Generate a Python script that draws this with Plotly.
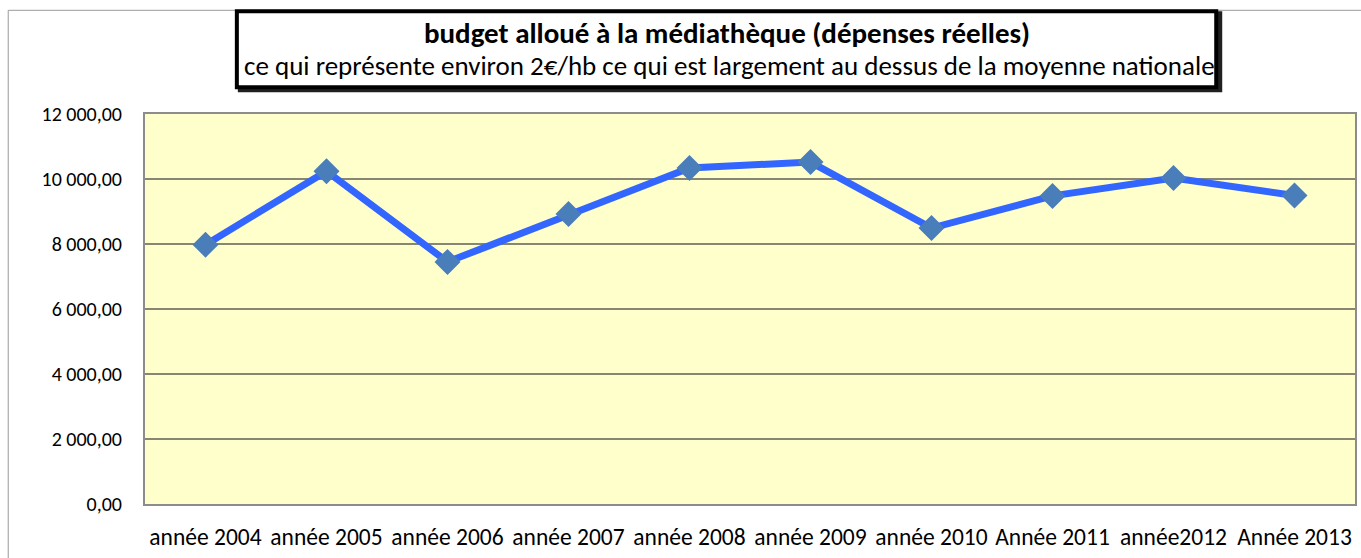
import plotly.graph_objects as go

categories = ["année 2004", "année 2005", "année 2006", "année 2007", "année 2008",
              "année 2009", "année 2010", "Année 2011", "année2012", "Année 2013"]
budget = [7980, 10240, 7450, 8920, 10340, 10520, 8490, 9480, 10030, 9490]
ytick_vals = [0, 2000, 4000, 6000, 8000, 10000, 12000]
ytick_text = ["0,00", "2 000,00", "4 000,00", "6 000,00", "8 000,00", "10 000,00", "12 000,00"]
title_main = "budget alloué à la médiathèque (dépenses réelles)"
title_sub = "ce qui représente environ 2€/hb ce qui est largement au dessus de la moyenne nationale"

W, H = 1361, 558
L, R, T, B = 145, 1357, 113.7, 503.7
pw, ph = R - L, B - T

def px(x):
    return (x - L) / pw

def py(y):
    return (B - y) / ph

FONT = "Carlito, Lato, 'Open Sans', sans-serif"

fig = go.Figure()
fig.add_trace(go.Scatter(
    x=categories, y=budget, mode="lines+markers",
    line=dict(color="#3366FF", width=7),
    marker=dict(symbol="diamond", size=20, color="#4A7EBB"),
    cliponaxis=False, showlegend=False, hoverinfo="skip",
))

shapes = [
    dict(type="rect", xref="paper", yref="paper",
         x0=px(8), x1=px(1400), y0=py(600), y1=py(10),
         line=dict(color="#9a9a9a", width=1), fillcolor="rgba(0,0,0,0)", layer="below"),
    dict(type="rect", xref="paper", yref="paper",
         x0=px(240), x1=px(1222), y0=py(90), y1=py(13),
         line=dict(color="#202020", width=4), fillcolor="#202020", layer="above"),
    dict(type="rect", xref="paper", yref="paper",
         x0=px(237), x1=px(1218), y0=py(87), y1=py(11),
         line=dict(color="black", width=4), fillcolor="white", layer="above"),
]

annotations = [
    dict(text="<b>" + title_main + "</b>", xref="paper", yref="paper",
         x=px(728), y=py(32.5), xanchor="center", yanchor="middle", showarrow=False,
         font=dict(family=FONT, size=29, color="black")),
    dict(text=title_sub, xref="paper", yref="paper",
         x=px(730), y=py(65), xanchor="center", yanchor="middle", showarrow=False,
         font=dict(family=FONT, size=27, color="black")),
]

fig.update_layout(
    width=W, height=H,
    margin=dict(l=L, r=W - R, t=T, b=H - B, pad=0),
    paper_bgcolor="white", plot_bgcolor="#FFFFCC",
    shapes=shapes, annotations=annotations,
    font=dict(family=FONT, size=16, color="black"),
    xaxis=dict(type="category", showgrid=False, zeroline=False,
               showline=True, linecolor="#8c8c8c", linewidth=2, mirror=True,
               ticks="", tickfont=dict(size=23.5), ticklabelstandoff=11,
               range=[-0.5, len(categories) - 0.5]),
    yaxis=dict(range=[0, 12000], tickvals=ytick_vals, ticktext=ytick_text,
               showgrid=True, gridcolor="#868672", gridwidth=1.5, zeroline=False,
               showline=True, linecolor="#8c8c8c", linewidth=2, mirror=True,
               ticks="", tickfont=dict(size=20), ticklabelstandoff=17),
)

fig.write_html("out.html", config={"displayModeBar": False},
               post_script="document.body.style.margin='0';document.body.style.overflow='hidden';")
